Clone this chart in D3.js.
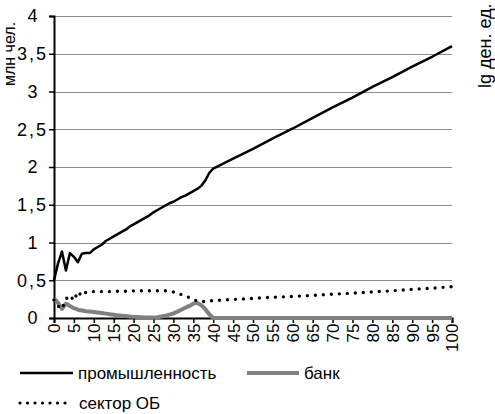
<!DOCTYPE html>
<html><head><meta charset="utf-8">
<script src="https://cdn.jsdelivr.net/npm/d3@7"></script>
<style>
body{margin:0;background:#fff;overflow:hidden}
svg{display:block}
text{font-family:"Liberation Sans",Arial,sans-serif;fill:#000}
</style>
</head><body>
<script>
// ---- data ----
const xValues = [0,1,2,3,4,5,6,7,8,9,10,11,12,13,14,15,16,17,18,19,20,21,22,23,24,25,26,27,28,29,30,31,32,33,34,35,36,37,38,39,40,45,50,55,60,65,70,75,80,85,90,95,100];
const industry = [0.50,0.72,0.88,0.63,0.86,0.81,0.74,0.85,0.86,0.86,0.91,0.94,0.97,1.02,1.05,1.08,1.11,1.14,1.17,1.21,1.24,1.27,1.30,1.33,1.36,1.40,1.43,1.46,1.49,1.52,1.54,1.57,1.60,1.62,1.65,1.68,1.71,1.75,1.82,1.92,1.98,2.11,2.24,2.38,2.51,2.65,2.79,2.92,3.06,3.19,3.33,3.46,3.60];
const bank = [0.26,0.20,0.12,0.19,0.16,0.13,0.11,0.10,0.09,0.085,0.08,0.072,0.065,0.058,0.05,0.043,0.035,0.03,0.025,0.02,0.015,0.012,0.01,0.007,0.005,0.005,0.01,0.02,0.03,0.045,0.06,0.085,0.11,0.135,0.16,0.19,0.20,0.17,0.12,0.05,0,0,0,0,0,0,0,0,0,0,0,0,0];
const sectorOB = [0.24,0.16,0.12,0.25,0.30,0.23,0.35,0.29,0.34,0.35,0.35,0.35,0.35,0.35,0.35,0.355,0.355,0.355,0.355,0.355,0.36,0.36,0.36,0.36,0.36,0.36,0.36,0.36,0.36,0.355,0.345,0.33,0.31,0.29,0.27,0.245,0.225,0.215,0.22,0.225,0.23,0.245,0.26,0.275,0.285,0.30,0.315,0.33,0.345,0.36,0.38,0.395,0.415];
const yTicks = [0,0.5,1,1.5,2,2.5,3,3.5,4];
const xTicks = [0,5,10,15,20,25,30,35,40,45,50,55,60,65,70,75,80,85,90,95,100];
const seriesNames = ["промышленность","банк","сектор ОБ"];
const yTitle = "млн чел.";
const y2Title = "lg ден. ед.";

// ---- chart ----
const W = 495, H = 414;
const svg = d3.select("body").append("svg").attr("width", W).attr("height", H);
const x = d3.scaleLinear().domain([0, 100]).range([54, 452]);
const y = d3.scaleLinear().domain([0, 4]).range([318, 16]);

// gridlines
svg.append("g").selectAll("line").data(yTicks.filter(d => d > 0)).join("line")
  .attr("x1", x(0)).attr("x2", x(100))
  .attr("y1", d => Math.round(y(d)) + 0.5).attr("y2", d => Math.round(y(d)) + 0.5)
  .attr("stroke", "#8c8c8c").attr("stroke-width", 1);

// y axis
const yAxis = svg.append("g").attr("transform", `translate(${x(0)},0)`)
  .call(d3.axisLeft(y).tickValues(yTicks).tickSize(5)
    .tickFormat(d => String(d).replace(".", ",")));
yAxis.select(".domain").attr("stroke", "#000").attr("stroke-width", 2);
yAxis.selectAll(".tick line").attr("stroke", "#000").attr("stroke-width", 1.5);
yAxis.selectAll(".tick text")
  .attr("font-size", 18).attr("font-family", '"Liberation Sans",Arial,sans-serif')
  .attr("text-anchor", "end")
  .each(function(d) {
    const t = d3.select(this);
    if (d % 1 !== 0) t.attr("x", -6).style("letter-spacing", "2px");
    else t.attr("x", -16.5);
  });

// x axis
const xAxis = svg.append("g").attr("transform", `translate(0,${y(0)})`)
  .call(d3.axisBottom(x).tickValues(xTicks).tickSize(5).tickFormat(d3.format("d")));
xAxis.select(".domain").attr("stroke", "#000").attr("stroke-width", 2);
xAxis.selectAll(".tick line").attr("stroke", "#000").attr("stroke-width", 1.5);
xAxis.selectAll(".tick text")
  .attr("font-size", 17).attr("font-family", '"Liberation Sans",Arial,sans-serif')
  .attr("transform", "rotate(-90)")
  .attr("text-anchor", "end")
  .attr("x", -5.5).attr("y", 0).attr("dy", "0.35em");

// lines
const pts = arr => arr.map((v, i) => [xValues[i], v]);
const line = d3.line().x(d => x(d[0])).y(d => y(d[1]));

svg.append("path").datum(pts(industry)).attr("d", line)
  .attr("fill", "none").attr("stroke", "#000").attr("stroke-width", 2.5)
  .attr("stroke-linejoin", "round");
svg.append("path").datum(pts(bank)).attr("d", line)
  .attr("fill", "none").attr("stroke", "#808080").attr("stroke-width", 4)
  .attr("stroke-linejoin", "round");
svg.append("path").datum(pts(sectorOB)).attr("d", line)
  .attr("fill", "none").attr("stroke", "#000").attr("stroke-width", 3.4)
  .attr("stroke-linecap", "round").attr("stroke-dasharray", "0 8");

// axis titles
svg.append("text").attr("transform", "translate(14.5,86) rotate(-90)")
  .attr("font-size", 16).text(yTitle);
svg.append("text").attr("transform", "translate(491,88) rotate(-90)")
  .attr("font-size", 18).text(y2Title);

// legend
const leg = svg.append("g");
const legItems = [
  {name: seriesNames[0], x: 20, y: 373, stroke: "#000", w: 2.5, dash: null, len: 53},
  {name: seriesNames[1], x: 247, y: 373, stroke: "#808080", w: 4, dash: null, len: 52},
  {name: seriesNames[2], x: 20, y: 403, stroke: "#000", w: 3.2, dash: "0 7.5", len: 46}
];
legItems.forEach(it => {
  leg.append("line").attr("x1", it.x).attr("x2", it.x + it.len)
    .attr("y1", it.y).attr("y2", it.y)
    .attr("stroke", it.stroke).attr("stroke-width", it.w)
    .attr("stroke-linecap", it.dash ? "round" : "butt")
    .attr("stroke-dasharray", it.dash);
  leg.append("text").attr("x", it.x + (it.dash ? 59 : it.len + 5)).attr("y", it.y + 5.5)
    .attr("font-size", 17).text(it.name);
});
</script>
</body></html>
